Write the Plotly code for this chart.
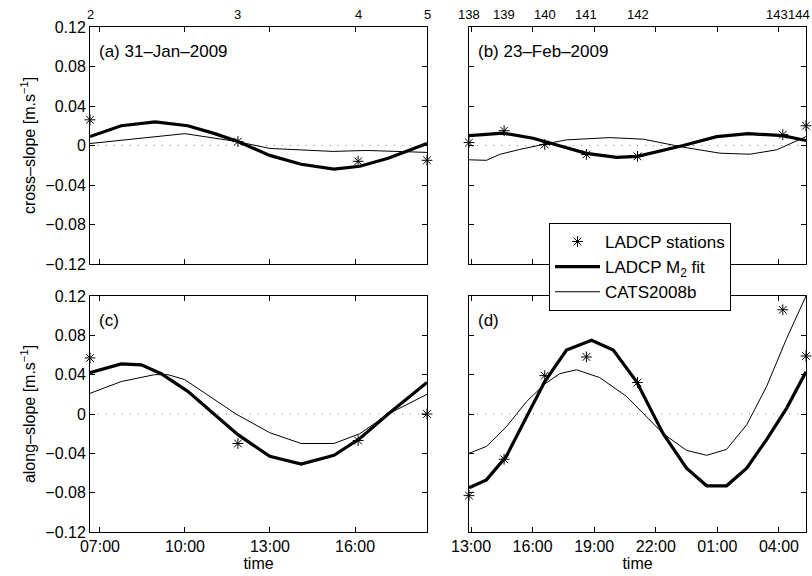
import pandas as pd
import plotly.graph_objects as go

DAY_JAN = "2009-01-31"
DAY_FEB = "2009-02-23"

# hours after midnight of the survey day
jan_station_hours = [6.65, 11.87, 16.11, 18.54]
jan_station_ids = ["2", "3", "4", "5"]
jan_cross_ladcp = [0.026, 0.004, -0.016, -0.015]
jan_along_ladcp = [0.057, -0.030, -0.027, 0.0]

jan_cross_fit_hours = [6.65, 7.75, 8.95, 10.1, 11.05, 11.87, 12.99, 14.1, 15.26, 16.17, 17.17, 18.54]
jan_cross_fit = [0.009, 0.020, 0.024, 0.020, 0.012, 0.004, -0.010, -0.019, -0.024, -0.021, -0.013, 0.002]
jan_cross_cats_hours = [6.65, 10.0, 11.83, 13.0, 15.22, 16.42, 18.54]
jan_cross_cats = [0.002, 0.012, 0.004, -0.003, -0.006, -0.005, -0.007]

jan_along_fit_hours = [6.65, 7.75, 8.46, 9.16, 10.1, 11.05, 11.87, 12.99, 14.1, 15.26, 16.17, 17.17, 18.54]
jan_along_fit = [0.042, 0.051, 0.050, 0.041, 0.023, -0.001, -0.021, -0.043, -0.051, -0.042, -0.025, 0.0, 0.032]
jan_along_cats_hours = [6.65, 7.75, 8.93, 9.4, 9.99, 11.8, 12.99, 14.1, 15.26, 16.17, 17.17, 18.54]
jan_along_cats = [0.021, 0.033, 0.040, 0.040, 0.035, 0.0, -0.019, -0.030, -0.030, -0.020, 0.0, 0.020]

feb_station_hours = [12.90, 14.61, 16.59, 18.62, 21.11, 28.19, 29.32]
feb_station_ids = ["138", "139", "140", "141", "142", "143", "144"]
feb_cross_ladcp = [0.003, 0.015, 0.001, -0.009, -0.011, 0.011, 0.020]
feb_along_ladcp = [-0.083, -0.046, 0.039, 0.058, 0.032, 0.106, 0.059]

feb_cross_fit_hours = [12.90, 14.56, 16.02, 16.83, 18.62, 20.09, 21.11, 23.34, 24.97, 26.51, 28.19, 29.32]
feb_cross_fit = [0.010, 0.0125, 0.0074, 0.0024, -0.008, -0.012, -0.011, 0.0, 0.009, 0.012, 0.010, 0.005]
feb_cross_cats_hours = [12.90, 13.75, 14.4, 15.37, 16.59, 17.65, 19.76, 21.39, 23.34, 25.13, 26.59, 27.89, 29.32]
feb_cross_cats = [-0.0145, -0.015, -0.009, -0.004, 0.0014, 0.0057, 0.008, 0.0064, -0.0017, -0.0078, -0.0088, -0.0044, 0.009]

feb_along_fit_hours = [12.9, 13.75, 14.72, 15.7, 16.59, 17.65, 18.87, 19.93, 21.06, 22.36, 23.5, 24.48, 25.45, 26.43, 27.4, 28.38, 29.32]
feb_along_fit = [-0.075, -0.067, -0.043, -0.003, 0.033, 0.065, 0.075, 0.065, 0.033, -0.020, -0.055, -0.073, -0.073, -0.055, -0.026, 0.006, 0.043]
feb_along_cats_hours = [12.9, 13.75, 14.72, 15.7, 16.59, 17.32, 18.14, 19.27, 20.57, 22.36, 23.5, 24.48, 25.45, 26.43, 27.4, 28.38, 29.32]
feb_along_cats = [-0.040, -0.033, -0.013, 0.0125, 0.0305, 0.041, 0.045, 0.037, 0.018, -0.020, -0.037, -0.042, -0.036, -0.011, 0.028, 0.077, 0.120]

FONT = "Liberation Sans"


def ts(day, hours):
    return pd.Timestamp(day) + pd.to_timedelta(hours, unit="h")


def add_panel(fig, day, st_hours, st_vals, fit_h, fit_v, cats_h, cats_v, xa, ya, legend):
    fig.add_trace(go.Scatter(
        x=ts(day, fit_h), y=fit_v, mode="lines", name="LADCP M<sub>2</sub> fit",
        line=dict(color="black", width=3.2), xaxis=xa, yaxis=ya, showlegend=legend, legendrank=2))
    fig.add_trace(go.Scatter(
        x=ts(day, cats_h), y=cats_v, mode="lines", name="CATS2008b",
        line=dict(color="black", width=1), xaxis=xa, yaxis=ya, showlegend=legend, legendrank=3))
    fig.add_trace(go.Scatter(
        x=ts(day, st_hours), y=st_vals, mode="markers", name="LADCP stations",
        marker=dict(symbol="asterisk-open", size=9, color="black", line=dict(color="black", width=1)),
        xaxis=xa, yaxis=ya, showlegend=legend, legendrank=1, cliponaxis=False))


fig = go.Figure()
add_panel(fig, DAY_JAN, jan_station_hours, jan_cross_ladcp, jan_cross_fit_hours, jan_cross_fit,
          jan_cross_cats_hours, jan_cross_cats, "x", "y", True)
add_panel(fig, DAY_FEB, feb_station_hours, feb_cross_ladcp, feb_cross_fit_hours, feb_cross_fit,
          feb_cross_cats_hours, feb_cross_cats, "x2", "y2", False)
add_panel(fig, DAY_JAN, jan_station_hours, jan_along_ladcp, jan_along_fit_hours, jan_along_fit,
          jan_along_cats_hours, jan_along_cats, "x3", "y3", False)
add_panel(fig, DAY_FEB, feb_station_hours, feb_along_ladcp, feb_along_fit_hours, feb_along_fit,
          feb_along_cats_hours, feb_along_cats, "x4", "y4", False)

W, H = 812, 576
left_dom = [90 / W, 427 / W]
right_dom = [469 / W, 806 / W]
top_dom = [1 - 264 / H, 1 - 27 / H]
bot_dom = [1 - 532 / H, 1 - 296 / H]

jan_range = [ts(DAY_JAN, jan_station_hours[0]), ts(DAY_JAN, jan_station_hours[-1])]
feb_range = [ts(DAY_FEB, feb_station_hours[0]), ts(DAY_FEB, feb_station_hours[-1])]

frame = dict(showline=True, linecolor="black", linewidth=1, mirror="ticks", ticks="inside",
             ticklen=5, tickcolor="black", showgrid=False, zeroline=False, automargin=False,
             tickfont=dict(family=FONT, size=16, color="black"))


def xax(dom, rng, day, start, labels, anchor):
    d = dict(frame, domain=dom, range=rng, type="date", tickformat="%H:%M",
             dtick=3 * 3600 * 1000, tick0=f"{day} {start}", anchor=anchor,
             showticklabels=labels)
    if labels:
        d["title"] = dict(text="time", font=dict(family=FONT, size=16, color="black"), standoff=0)
    return d


def yax(dom, labels, title, anchor):
    d = dict(frame, domain=dom, range=[-0.12, 0.12], dtick=0.04, tick0=0,
             showticklabels=labels, anchor=anchor)
    if title:
        d["title"] = dict(text=title, font=dict(family=FONT, size=16, color="black"), standoff=5)
    return d


fig.update_layout(
    width=W, height=H,
    margin=dict(l=0, r=0, t=0, b=0),
    paper_bgcolor="white", plot_bgcolor="white",
    font=dict(family=FONT, size=16, color="black"),
    xaxis=xax(left_dom, jan_range, DAY_JAN, "07:00", False, "y"),
    xaxis2=xax(right_dom, feb_range, DAY_FEB, "13:00", False, "y2"),
    xaxis3=xax(left_dom, jan_range, DAY_JAN, "07:00", True, "y3"),
    xaxis4=xax(right_dom, feb_range, DAY_FEB, "13:00", True, "y4"),
    yaxis=yax(top_dom, True, "cross–slope [m.s<sup>−1</sup>]", "x"),
    yaxis2=yax(top_dom, False, None, "x2"),
    yaxis3=yax(bot_dom, True, "along–slope [m.s<sup>−1</sup>]", "x3"),
    yaxis4=yax(bot_dom, False, None, "x4"),
    legend=dict(x=549 / W, y=1 - 223 / H, xanchor="left", yanchor="top",
                bgcolor="white", bordercolor="black", borderwidth=1,
                font=dict(family=FONT, size=17, color="black"),
                itemwidth=45, traceorder="normal"),
    showlegend=True,
)

for xa, ya in [("x", "y"), ("x2", "y2"), ("x3", "y3"), ("x4", "y4")]:
    fig.add_shape(type="line", xref=f"{xa} domain", yref=ya, x0=0, x1=1, y0=0, y1=0,
                  line=dict(color="#888888", width=1, dash="1px,7px"), layer="below")

# station numbers along the top of the upper panels
for xa, ya, day, hours, ids in [("x", "y", DAY_JAN, jan_station_hours, jan_station_ids),
                                ("x2", "y2", DAY_FEB, feb_station_hours, feb_station_ids)]:
    n = len(ids)
    for i, (h, sid) in enumerate(zip(hours, ids)):
        anchor, shift = "center", 0
        wide = len(sid) > 1
        if wide and i == n - 1:
            # last label sits at the right edge of the figure
            anchor, shift = "right", 6
        elif wide and i == n - 2 and hours[i + 1] - h < 1.5:
            # crowded by the last one, so butt up against it
            anchor, shift = "right", 7
        fig.add_annotation(xref=xa, yref=f"{ya} domain", x=ts(day, h), y=1, yshift=3,
                           xanchor=anchor, xshift=shift, yanchor="bottom", text=sid,
                           showarrow=False, font=dict(family=FONT, size=13, color="black"))

panel_labels = [("x", "y", "(a) 31–Jan–2009"), ("x2", "y2", "(b) 23–Feb–2009"),
                ("x3", "y3", "(c)"), ("x4", "y4", "(d)")]
for xa, ya, txt in panel_labels:
    fig.add_annotation(xref=f"{xa} domain", yref=f"{ya} domain", x=0.02, y=0.895,
                       xanchor="left", yanchor="middle", text=txt, showarrow=False,
                       font=dict(family=FONT, size=17, color="black"))

# the page's default body margin would push the fixed-size figure off screen
fig.write_html("out.html", config={"displayModeBar": False},
               post_script="document.body.style.margin='0';")
